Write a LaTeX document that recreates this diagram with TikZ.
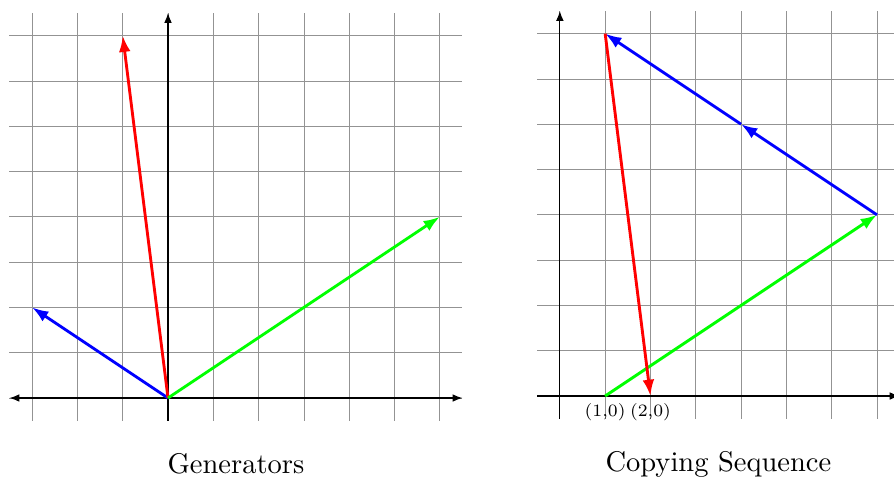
\documentclass[tikz,border=0pt]{standalone}
\usetikzlibrary{arrows.meta}
\begin{document}
\begin{tikzpicture}[
  gridline/.style={draw=gray!85, line width=0.5pt},
  axis/.style={draw=black, line width=0.7pt},
  axhead/.style={-{Latex[length=2.2mm,width=1.7mm]}},
  axheads/.style={{Latex[length=2.2mm,width=1.7mm]}-{Latex[length=2.2mm,width=1.7mm]}},
  vec/.style={line width=1.8pt, -{Latex[length=3.6mm,width=2.6mm]}},
  titletext/.style={font=\fontsize{10}{12}\selectfont, anchor=base, inner sep=0pt, scale=1.79, transform shape},
  lab/.style={font=\fontsize{7}{8.5}\selectfont, inner sep=0pt, scale=1.56, transform shape}
]
\useasboundingbox (-3.709,-1.744) rectangle (16.026,8.786);
\clip (-3.709,-1.744) rectangle (16.026,8.786);
% ---------- Generators ----------
\begin{scope}
  \draw[gridline] (-3.5,-0.5) grid (6.5,8.5);
  \coordinate (LxA) at (-3.5,0);
  \coordinate (LxB) at (6.5,0);
  \coordinate (LyA) at (0,-0.5);
  \coordinate (LyB) at (0,8.5);
  \draw[axis,axheads] (LxA) -- (LxB);
  \draw[axis,axhead] (LyA) -- (LyB);
  \coordinate (O) at (0,0);
  \coordinate (B) at (-3,2);
  \coordinate (R) at (-1,8);
  \coordinate (G) at (6,4);
  \draw[vec,blue] (O) -- (B);
  \draw[vec,red] (O) -- (R);
  \draw[vec,green] (O) -- (G);
  \node[titletext] (t1) at (1.5,-1.66) {Generators};
\end{scope}
% ---------- Copying Sequence ----------
\begin{scope}[shift={(8.65,0.044)}]
  \draw[gridline] (-0.5,-0.5) grid (7.5,8.5);
  \coordinate (RxA) at (-0.5,0);
  \coordinate (RxB) at (7.5,0);
  \coordinate (RyA) at (0,-0.5);
  \coordinate (RyB) at (0,8.5);
  \draw[axis,axhead] (RxA) -- (RxB);
  \draw[axis,axhead] (RyA) -- (RyB);
  \coordinate (P10) at (1,0);
  \coordinate (P20) at (2,0);
  \coordinate (P74) at (7,4);
  \coordinate (P46) at (4,6);
  \coordinate (P18) at (1,8);
  \draw[vec,green] (P10) -- (P74);
  \draw[vec,blue] (P74) -- (P46);
  \draw[vec,blue] (P46) -- (P18);
  \draw[vec,red] (P18) -- (P20);
  \node[lab] (l1) at (1,-0.36) {(1,0)};
  \node[lab] (l2) at (2,-0.36) {(2,0)};
  \node[titletext] (t2) at (3.5,-1.66) {Copying Sequence};
\end{scope}
\end{tikzpicture}
\end{document}
